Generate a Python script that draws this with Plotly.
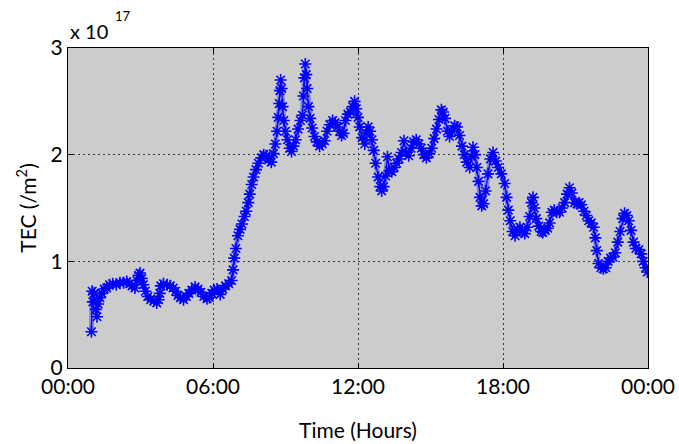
import plotly.graph_objects as go

# Total electron content over one day (hours since 00:00, TEC in units of 1e17 /m^2)
hours = [
    0.97, 1.00, 1.03, 1.08, 1.15, 1.20, 1.25, 1.32, 1.40, 1.50, 1.60, 1.72, 1.85,
    2.00, 2.15, 2.30, 2.43, 2.55, 2.65, 2.77, 2.85, 2.92, 2.98, 3.05, 3.12, 3.20,
    3.30, 3.42, 3.55, 3.67, 3.75, 3.80, 3.84, 3.95, 4.10, 4.23, 4.35, 4.45, 4.55,
    4.65, 4.78, 4.90, 5.00, 5.12, 5.26, 5.38, 5.50, 5.62, 5.75, 5.85, 5.95, 6.05,
    6.17, 6.30, 6.40, 6.52, 6.65, 6.77, 6.83, 6.88, 6.95, 7.03, 7.12, 7.20, 7.30,
    7.38, 7.46, 7.52, 7.60, 7.68, 7.78, 7.88, 8.00, 8.10, 8.20, 8.30, 8.41, 8.50,
    8.58, 8.65, 8.70, 8.74, 8.77, 8.80, 8.84, 8.88, 8.93, 9.00, 9.08, 9.17, 9.25,
    9.33, 9.42, 9.52, 9.62, 9.70, 9.74, 9.78, 9.82, 9.86, 9.90, 9.95, 10.02, 10.10,
    10.20, 10.30, 10.41, 10.52, 10.62, 10.72, 10.83, 10.95, 11.05, 11.15, 11.24,
    11.32, 11.40, 11.48, 11.58, 11.68, 11.78, 11.86, 11.93, 12.00, 12.07, 12.17,
    12.28, 12.35, 12.42, 12.50, 12.58, 12.65, 12.73, 12.83, 12.92, 12.98, 13.06,
    13.14, 13.22, 13.30, 13.40, 13.50, 13.60, 13.70, 13.80, 13.90, 14.00, 14.10,
    14.20, 14.30, 14.41, 14.52, 14.62, 14.72, 14.83, 14.95, 15.05, 15.15, 15.25,
    15.35, 15.45, 15.52, 15.60, 15.70, 15.79, 15.90, 16.00, 16.10, 16.20, 16.30,
    16.40, 16.50, 16.62, 16.70, 16.76, 16.84, 16.92, 16.99, 17.05, 17.12, 17.20,
    17.28, 17.38, 17.48, 17.59, 17.70, 17.80, 17.93, 18.07, 18.15, 18.22, 18.30,
    18.40, 18.50, 18.60, 18.70, 18.80, 18.90, 19.00, 19.10, 19.18, 19.24, 19.30,
    19.38, 19.48, 19.58, 19.65, 19.75, 19.85, 19.93, 20.02, 20.12, 20.22, 20.34,
    20.45, 20.55, 20.65, 20.75, 20.85, 20.96, 21.06, 21.15, 21.24, 21.35, 21.45,
    21.55, 21.65, 21.75, 21.82, 21.88, 21.95, 22.05, 22.15, 22.25, 22.35, 22.45,
    22.55, 22.65, 22.75, 22.85, 22.95, 23.03, 23.12, 23.20, 23.30, 23.40, 23.50,
    23.62, 23.72, 23.80, 23.90, 23.97,
]

tec = [
    0.34, 0.72, 0.62, 0.70, 0.55, 0.48, 0.60, 0.66, 0.70, 0.74, 0.75, 0.78, 0.79,
    0.78, 0.80, 0.80, 0.81, 0.79, 0.77, 0.75, 0.82, 0.87, 0.89, 0.84, 0.78, 0.72,
    0.67, 0.64, 0.63, 0.61, 0.64, 0.70, 0.77, 0.79, 0.78, 0.77, 0.75, 0.72, 0.68,
    0.66, 0.64, 0.67, 0.70, 0.73, 0.76, 0.74, 0.71, 0.67, 0.65, 0.66, 0.70, 0.73,
    0.74, 0.69, 0.74, 0.77, 0.79, 0.82, 0.92, 1.03, 1.12, 1.24, 1.30, 1.35, 1.42,
    1.47, 1.55, 1.63, 1.72, 1.79, 1.86, 1.92, 1.97, 2.00, 1.99, 1.95, 1.93, 2.01,
    2.10, 2.22, 2.35, 2.48, 2.60, 2.70, 2.62, 2.45, 2.32, 2.22, 2.14, 2.06, 2.03,
    2.08, 2.14, 2.24, 2.32, 2.37, 2.55, 2.72, 2.85, 2.75, 2.62, 2.45, 2.34, 2.25,
    2.17, 2.12, 2.08, 2.10, 2.13, 2.22, 2.28, 2.32, 2.30, 2.26, 2.22,
    2.18, 2.20, 2.32, 2.38, 2.40, 2.45, 2.50, 2.43, 2.35, 2.26, 2.16,
    2.10, 2.20, 2.26, 2.22, 2.14, 2.04, 1.92, 1.79, 1.70, 1.66, 1.70,
    1.80, 1.98, 1.85, 1.84, 1.88, 1.92, 1.96, 2.02, 2.13, 2.02, 1.99,
    2.06, 2.12, 2.14, 2.10, 2.06, 2.00, 1.97, 2.01, 2.06, 2.15, 2.24,
    2.33, 2.42, 2.40, 2.34, 2.22, 2.17, 2.22, 2.27, 2.26, 2.18, 2.08,
    2.00, 1.93, 1.88, 1.98, 2.07, 2.00, 1.88, 1.75, 1.60, 1.52, 1.54,
    1.66, 1.82, 1.96, 2.02, 1.94, 1.88, 1.82, 1.73, 1.60, 1.48, 1.38,
    1.28, 1.24, 1.30, 1.32, 1.28, 1.26, 1.32, 1.42, 1.55, 1.60, 1.50,
    1.40, 1.33, 1.28, 1.27, 1.29, 1.31, 1.36, 1.46, 1.48, 1.46, 1.46,
    1.50, 1.55, 1.63, 1.69, 1.64, 1.55, 1.54, 1.55, 1.53, 1.47, 1.43,
    1.38, 1.36, 1.32, 1.22, 1.10, 0.98, 0.94, 0.93, 0.94, 1.00, 1.03,
    1.04, 1.08, 1.18, 1.28, 1.40, 1.45, 1.43, 1.38, 1.29, 1.18, 1.12,
    1.11, 1.07, 1.00, 0.94, 0.90,
]

x_ticks = [0, 6, 12, 18, 24]
x_tick_labels = ["00:00", "06:00", "12:00", "18:00", "00:00"]
y_ticks = [0, 1, 2, 3]

FONT = "Lato, 'Open Sans', sans-serif"

fig = go.Figure()
# Soft halo under the asterisks
fig.add_trace(go.Scatter(
    x=hours, y=tec, mode="lines",
    line=dict(color="rgba(0,0,255,0.35)", width=5),
    hoverinfo="skip", showlegend=False,
))
fig.add_trace(go.Scatter(
    x=hours,
    y=tec,
    mode="lines+markers",
    line=dict(color="#0000ff", width=1.2),
    marker=dict(symbol="asterisk-open", size=10,
                line=dict(color="#0000ff", width=1.6)),
    showlegend=False,
))

axis_common = dict(
    showline=True,
    linecolor="black",
    linewidth=1,
    mirror="allticks",
    ticks="inside",
    ticklen=5,
    tickcolor="black",
    showgrid=True,
    gridcolor="#3a3a3a",
    gridwidth=1,
    griddash="2px,3px",
    zeroline=False,
    automargin=False,
    tickfont=dict(family=FONT, size=21, color="black"),
)

fig.update_xaxes(
    range=[0, 24],
    tickvals=x_ticks,
    ticktext=x_tick_labels,
    title=dict(text="Time (Hours)", font=dict(family=FONT, size=21, color="black"),
               standoff=26),
    **axis_common,
)
fig.update_yaxes(
    range=[0, 3],
    tickvals=y_ticks,
    ticktext=[str(v) for v in y_ticks],
    title=dict(text="TEC (/m<sup>2</sup>)", font=dict(family=FONT, size=21, color="black"),
               standoff=8),
    **axis_common,
)

# Exponent multiplier above the y axis
fig.add_annotation(text="x 10", xref="paper", yref="paper", x=0.0, y=1.0,
                   xanchor="left", yanchor="bottom", yshift=3, showarrow=False,
                   font=dict(family=FONT, size=20, color="black"))
fig.add_annotation(text="17", xref="paper", yref="paper", x=0.077, y=1.0,
                   xanchor="left", yanchor="bottom", yshift=22, showarrow=False,
                   font=dict(family=FONT, size=13, color="black"))

fig.update_layout(
    width=679,
    height=444,
    margin=dict(l=68, r=31, t=48, b=76),
    plot_bgcolor="#cccccc",
    paper_bgcolor="white",
)

fig.write_html("out.html")
